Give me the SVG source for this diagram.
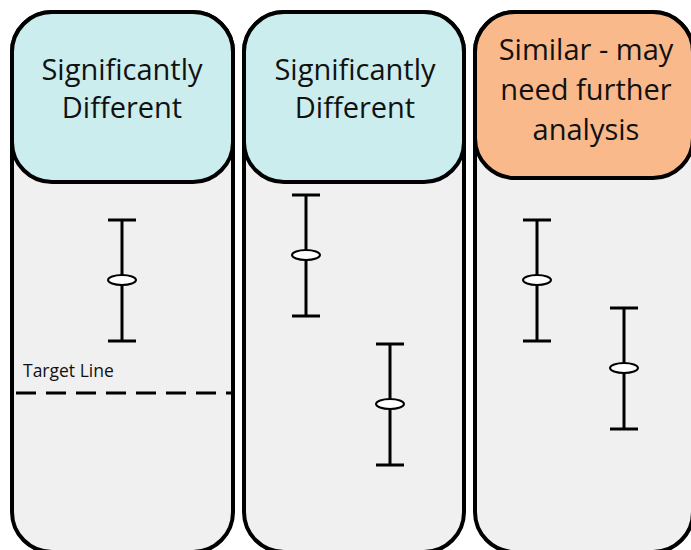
<svg xmlns="http://www.w3.org/2000/svg" width="691" height="550" viewBox="0 0 691 550">
  <style>
    .panel { fill: #f0f0f0; stroke: #000; stroke-width: 4; }
    .head-blue { fill: #cbeded; stroke: #000; stroke-width: 4; }
    .head-orange { fill: #f9b98a; stroke: #000; stroke-width: 4; }
    .title { font-family: "Open Sans", "Noto Sans", sans-serif; font-size: 29px; fill: #111; text-anchor: middle; }
    .bar { stroke: #000; stroke-width: 3; fill: none; }
    .mean { fill: #fff; stroke: #000; stroke-width: 2; }
    .label { font-family: "Open Sans", "Noto Sans", sans-serif; font-size: 17.5px; fill: #111; }
  </style>
  <defs>
    <g id="errbar">
      <line class="bar" x1="0" y1="0" x2="0" y2="121"/>
      <line class="bar" x1="-14" y1="0" x2="14" y2="0"/>
      <line class="bar" x1="-14" y1="121" x2="14" y2="121"/>
      <ellipse class="mean" cx="0" cy="60" rx="14" ry="5"/>
    </g>
  </defs>

  <!-- Panel 1 -->
  <g id="panel1">
    <rect class="panel" x="12" y="12" width="221" height="540" rx="40"/>
    <rect class="head-blue" x="12" y="12" width="221" height="170" rx="40"/>
    <text class="title" x="122" y="80">Significantly</text>
    <text class="title" x="122" y="118">Different</text>
  </g>

  <!-- Panel 2 -->
  <g id="panel2">
    <rect class="panel" x="244" y="12" width="220" height="540" rx="40"/>
    <rect class="head-blue" x="244" y="12" width="220" height="170" rx="40"/>
    <text class="title" x="355" y="80">Significantly</text>
    <text class="title" x="355" y="118">Different</text>
  </g>

  <!-- Panel 3 -->
  <g id="panel3">
    <rect class="panel" x="475" y="12" width="218" height="540" rx="40"/>
    <rect class="head-orange" x="475" y="12" width="218" height="166" rx="40"/>
    <text class="title" x="586" y="60">Similar - may</text>
    <text class="title" x="586" y="100">need further</text>
    <text class="title" x="586" y="140">analysis</text>
  </g>

  <!-- Target line -->
  <g id="target">
    <text class="label" x="23" y="377">Target Line</text>
    <line x1="14" y1="393" x2="231" y2="393" stroke="#000" stroke-width="3" stroke-dasharray="20 10" stroke-dashoffset="-2"/>
  </g>

  <!-- Error bars -->
  <g id="bars">
    <use href="#errbar" x="122" y="220"/>
    <use href="#errbar" x="306" y="195"/>
    <use href="#errbar" x="390" y="344"/>
    <use href="#errbar" x="537" y="220"/>
    <use href="#errbar" x="624" y="308"/>
  </g>
</svg>
